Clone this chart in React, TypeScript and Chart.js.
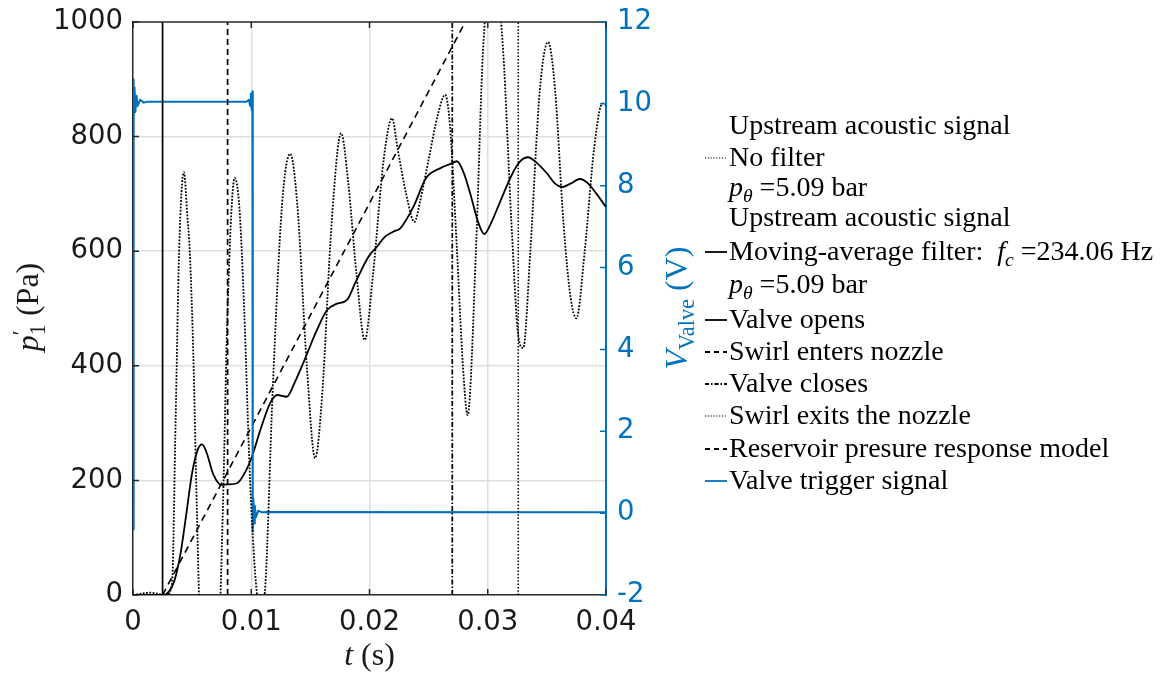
import React, { useEffect, useRef } from 'react';
import { Chart, registerables } from 'chart.js';

Chart.register(...registerables);

// ---------- data ----------
const xTicks = [0, 0.01, 0.02, 0.03, 0.04];
const yTicks = [0, 200, 400, 600, 800, 1000];
const y2Ticks = [-2, 0, 2, 4, 6, 8, 10, 12];

// Unfiltered upstream acoustic signal (Pa)
const rawT = [0, 0.0015, 0.0028, 0.0033, 0.0036, 0.0039, 0.0043, 0.0046, 0.0048, 0.0051, 0.0054, 0.0058, 0.0065, 0.0072, 0.0076, 0.008, 0.0086, 0.009, 0.0094, 0.0099, 0.0104, 0.0108, 0.0112, 0.0118, 0.0126, 0.0133, 0.0139, 0.0147, 0.0154, 0.016, 0.0168, 0.0176, 0.0182, 0.0189, 0.0196, 0.0203, 0.0212, 0.0219, 0.0224, 0.0231, 0.0238, 0.0243, 0.025, 0.0258, 0.0264, 0.0268, 0.0274, 0.0279, 0.0283, 0.029, 0.0296, 0.0305, 0.0313, 0.032, 0.0326, 0.033, 0.0336, 0.0344, 0.0351, 0.0357, 0.0364, 0.037, 0.0375, 0.0382, 0.039, 0.0397, 0.04];
const rawP = [0, 4, 0, 20, 300, 600, 738, 660, 600, 420, 150, -150, -260, -120, 150, 500, 728, 675, 500, 200, 20, -30, 20, 350, 680, 770, 680, 400, 239, 350, 650, 806, 720, 560, 445, 560, 760, 832, 776, 700, 651, 689, 760, 840, 873, 820, 600, 400, 314, 600, 950, 1100, 950, 650, 450, 431, 600, 880, 965, 880, 650, 520, 483, 600, 780, 858, 855];

// Moving-average filtered signal (Pa)
const filtT = [0, 0.0025, 0.003, 0.0035, 0.004, 0.0045, 0.005, 0.0055, 0.00585, 0.0062, 0.0068, 0.0075, 0.008, 0.0088, 0.0095, 0.0101, 0.0108, 0.0116, 0.0122, 0.013, 0.0137, 0.0145, 0.0155, 0.0164, 0.0172, 0.0181, 0.0188, 0.0199, 0.0206, 0.0213, 0.022, 0.0226, 0.0237, 0.0248, 0.026, 0.0268, 0.0274, 0.028, 0.0285, 0.0292, 0.0297, 0.0303, 0.031, 0.0321, 0.0328, 0.0334, 0.0341, 0.035, 0.0357, 0.0363, 0.037, 0.0378, 0.0385, 0.0392, 0.04];
const filtP = [0, 0, 5, 25, 70, 140, 213, 255, 263, 250, 210, 192, 193, 195, 215, 244, 290, 335, 349, 346, 372, 410, 460, 497, 508, 515, 545, 590, 607, 625, 634, 640, 677, 728, 745, 752, 757, 735, 702, 650, 630, 650, 684, 736, 758, 764, 755, 736, 718, 712, 718, 726, 718, 700, 677];

// Reservoir pressure response model (Pa)
const resT = [0.0025, 0.0281];
const resP = [0, 1000];

// Event markers (s)
const eventTimes = [0.0025, 0.008, 0.027, 0.03258];

// Valve trigger signal (V)
const trigT = [0, 0.00003, 0.00008, 0.00013, 0.0002, 0.0003, 0.0004, 0.0006, 0.0009, 0.0012, 0.0096, 0.0098, 0.0099, 0.00997, 0.01003, 0.0101, 0.01013, 0.01018, 0.01024, 0.0103, 0.0104, 0.0106, 0.0109, 0.0113, 0.04];
const trigV = [-0.4, 10.6, 9.6, 10.4, 9.8, 10.2, 9.95, 10.1, 10.03, 10.05, 10.05, 10.1, 9.95, 10.25, 9.85, 10.3, -0.45, 0.35, -0.25, 0.18, -0.1, 0.06, 0.02, 0.03, 0.02];

// ---------- styles ----------
const BLUE = '#0072BD';
const SERIF = '"Liberation Serif", "Times New Roman", serif';
const SANS = '"DejaVu Sans", sans-serif';

const pts = (xs: number[], ys: number[]) => xs.map((x, i) => ({ x, y: ys[i] }));

type Seg = { t: string; it?: boolean; sub?: boolean; sup?: boolean; stay?: boolean };

function segFont(s: Seg, size: number) {
  const sz = s.sub || s.sup ? size * 0.7 : size;
  return `${s.it ? 'italic ' : ''}${sz}px ${SERIF}`;
}

function richWidth(ctx: CanvasRenderingContext2D, segs: Seg[], size: number) {
  let w = 0;
  for (const s of segs) {
    ctx.font = segFont(s, size);
    if (!s.stay) w += ctx.measureText(s.t).width;
  }
  return w;
}

function drawRich(ctx: CanvasRenderingContext2D, segs: Seg[], x: number, y: number, size: number, color: string) {
  let cx = x;
  ctx.fillStyle = color;
  ctx.textBaseline = 'alphabetic';
  ctx.textAlign = 'left';
  for (const s of segs) {
    ctx.font = segFont(s, size);
    const dy = s.sub ? size * 0.22 : s.sup ? -size * 0.3 : 0;
    ctx.fillText(s.t, cx, y + dy);
    if (!s.stay) cx += ctx.measureText(s.t).width;
  }
}

const pTheta: Seg[] = [{ t: 'p', it: true }, { t: 'θ', it: true, sub: true }, { t: ' =5.09 bar' }];

type Row = { segs: Seg[]; base: number; dash?: number[]; color?: string };
const legendRows: Row[] = [
  { segs: [{ t: 'Upstream acoustic signal' }], base: 134 },
  { segs: [{ t: 'No filter' }], base: 166, dash: [1.2, 1.6] },
  { segs: pTheta, base: 196 },
  { segs: [{ t: 'Upstream acoustic signal' }], base: 226 },
  { segs: [{ t: 'Moving-average filter:  ' }, { t: 'f', it: true }, { t: 'c', it: true, sub: true }, { t: ' =234.06 Hz' }], base: 260, dash: [] },
  { segs: pTheta, base: 293 },
  { segs: [{ t: 'Valve opens' }], base: 328, dash: [] },
  { segs: [{ t: 'Swirl enters nozzle' }], base: 360, dash: [5, 4] },
  { segs: [{ t: 'Valve closes' }], base: 392, dash: [4, 2, 1.5, 2] },
  { segs: [{ t: 'Swirl exits the nozzle' }], base: 424, dash: [1.2, 1.6] },
  { segs: [{ t: 'Reservoir presure response model' }], base: 457, dash: [5, 4] },
  { segs: [{ t: 'Valve trigger signal' }], base: 489, dash: [], color: BLUE },
];

const decorPlugin = {
  id: 'decor',
  afterDraw(chart: any) {
    const ctx: CanvasRenderingContext2D = chart.ctx;
    const { left, right, top, bottom } = chart.chartArea;
    const xs = chart.scales.x, ys = chart.scales.y, y2 = chart.scales.y2;
    ctx.save();
    // top box line
    ctx.strokeStyle = '#262626';
    ctx.lineWidth = 1.5;
    ctx.beginPath();
    ctx.moveTo(left, top);
    ctx.lineTo(right, top);
    ctx.stroke();
    // inward ticks
    const TL = 6;
    ctx.lineWidth = 1.5;
    ctx.strokeStyle = '#262626';
    ctx.beginPath();
    for (const v of xTicks) {
      const px = xs.getPixelForValue(v);
      ctx.moveTo(px, bottom); ctx.lineTo(px, bottom - TL);
      ctx.moveTo(px, top); ctx.lineTo(px, top + TL);
    }
    for (const v of yTicks) {
      const py = ys.getPixelForValue(v);
      ctx.moveTo(left, py); ctx.lineTo(left + TL, py);
    }
    ctx.stroke();
    ctx.strokeStyle = BLUE;
    ctx.beginPath();
    for (const v of y2Ticks) {
      const py = y2.getPixelForValue(v);
      ctx.moveTo(right, py); ctx.lineTo(right - TL, py);
    }
    ctx.stroke();

    // axis titles
    const TS = 32;
    const leftTitle: Seg[] = [{ t: 'p', it: true }, { t: '′', sup: true, stay: true }, { t: '1', sub: true }, { t: ' (Pa)' }];
    const lw = richWidth(ctx, leftTitle, TS);
    ctx.save();
    ctx.translate(38, 307);
    ctx.rotate(-Math.PI / 2);
    drawRich(ctx, leftTitle, -lw / 2, 0, TS, '#1a1a1a');
    ctx.restore();

    const rightTitle: Seg[] = [{ t: 'V', it: true }, { t: 'Valve', sub: true }, { t: ' (V)' }];
    const rw = richWidth(ctx, rightTitle, TS);
    ctx.save();
    ctx.translate(687, 308);
    ctx.rotate(-Math.PI / 2);
    drawRich(ctx, rightTitle, -rw / 2, 0, TS, BLUE);
    ctx.restore();

    const bottomTitle: Seg[] = [{ t: 't', it: true }, { t: ' (s)' }];
    const bw = richWidth(ctx, bottomTitle, TS);
    drawRich(ctx, bottomTitle, (left + right) / 2 - bw / 2, 665, TS, '#1a1a1a');

    // legend
    const LS = 28;
    const textX = 729;
    for (const r of legendRows) {
      if (r.dash) {
        ctx.save();
        ctx.strokeStyle = r.color || '#000';
        ctx.lineWidth = r.dash.length && r.dash[0] < 2 ? 1.2 : 1.8;
        ctx.setLineDash(r.dash);
        ctx.beginPath();
        ctx.moveTo(705, r.base - 8);
        ctx.lineTo(727, r.base - 8);
        ctx.stroke();
        ctx.restore();
      }
      drawRich(ctx, r.segs, textX, r.base, LS, '#000');
    }
    ctx.restore();
  },
};

const noPadV = (w: number) => (s: any) => { s.width = w; s.paddingTop = 0; s.paddingBottom = 0; };

export default function App() {
  const ref = useRef<HTMLCanvasElement | null>(null);
  useEffect(() => {
    document.body.style.margin = '0';
    const canvas = ref.current!;
    const lineBase = { pointRadius: 0, fill: false, borderJoinStyle: 'round' as const };
    const eventDashes = [[], [6, 4], [5, 2, 1.5, 2], [1.5, 1.8]];
    const eventNames = ['Valve opens', 'Swirl enters nozzle', 'Valve closes', 'Swirl exits the nozzle'];
    const chart = new Chart(canvas, {
      type: 'line',
      data: {
        datasets: [
          { ...lineBase, label: 'No filter', data: pts(rawT, rawP), borderColor: '#000', borderWidth: 1.8, borderDash: [1.8, 1.5], cubicInterpolationMode: 'monotone', yAxisID: 'y' },
          ...eventTimes.map((t, i) => ({ ...lineBase, label: eventNames[i], data: pts([t, t], [0, 1000]), borderColor: '#000', borderWidth: i === 3 ? 1.5 : 1.7, borderDash: eventDashes[i], yAxisID: 'y' })),
          { ...lineBase, label: 'Valve trigger signal', data: pts(trigT, trigV), borderColor: BLUE, borderWidth: 2, tension: 0, yAxisID: 'y2' },
          { ...lineBase, label: 'Reservoir presure response model', data: pts(resT, resP), borderColor: '#000', borderWidth: 1.6, borderDash: [7, 5], yAxisID: 'y' },
          { ...lineBase, label: 'Moving-average filter', data: pts(filtT, filtP), borderColor: '#000', borderWidth: 1.8, cubicInterpolationMode: 'monotone', yAxisID: 'y' },
        ],
      },
      options: {
        responsive: false,
        animation: false,
        devicePixelRatio: 1,
        layout: { padding: { left: 0, top: 22, right: 505, bottom: 0 } },
        plugins: { legend: { display: false }, tooltip: { enabled: false } },
        scales: {
          x: {
            type: 'linear', min: 0, max: 0.04,
            afterBuildTicks: (s: any) => { s.ticks = xTicks.map((v) => ({ value: v })); },
            afterFit: (s: any) => { s.height = 80; s.paddingLeft = 0; s.paddingRight = 0; },
            ticks: { padding: 11, maxRotation: 0, color: '#1a1a1a', font: { family: SANS, size: 27.5 }, callback: (v: any) => (Number(v) === 0 ? '0' : Number(v).toFixed(2)) },
            grid: { color: (c: any) => (c.tick && (c.tick.value === 0 || c.tick.value === 0.04) ? 'rgba(0,0,0,0)' : '#dfdfdf'), lineWidth: 1.5, drawTicks: false },
            border: { color: '#262626', width: 1.5 },
          },
          y: {
            type: 'linear', position: 'left', min: 0, max: 1000,
            afterBuildTicks: (s: any) => { s.ticks = yTicks.map((v) => ({ value: v })); },
            afterFit: noPadV(133),
            ticks: { padding: 10, color: '#1a1a1a', font: { family: SANS, size: 27.5 }, callback: (v: any) => String(v) },
            grid: { color: (c: any) => (c.tick && (c.tick.value === 0 || c.tick.value === 1000) ? 'rgba(0,0,0,0)' : '#dfdfdf'), lineWidth: 1.5, drawTicks: false },
            border: { color: '#262626', width: 1.5 },
          },
          y2: {
            type: 'linear', position: 'right', min: -2, max: 12,
            afterBuildTicks: (s: any) => { s.ticks = y2Ticks.map((v) => ({ value: v })); },
            afterFit: noPadV(60),
            ticks: { padding: 11, color: BLUE, font: { family: SANS, size: 27.5 }, callback: (v: any) => String(v) },
            grid: { display: false, drawTicks: false },
            border: { color: BLUE, width: 2 },
          },
        },
      } as any,
      plugins: [decorPlugin],
    });
    return () => chart.destroy();
  }, []);
  return (
    <div style={{ width: 1171, height: 675 }}>
      <canvas ref={ref} width={1171} height={675} style={{ display: 'block' }} />
    </div>
  );
}
